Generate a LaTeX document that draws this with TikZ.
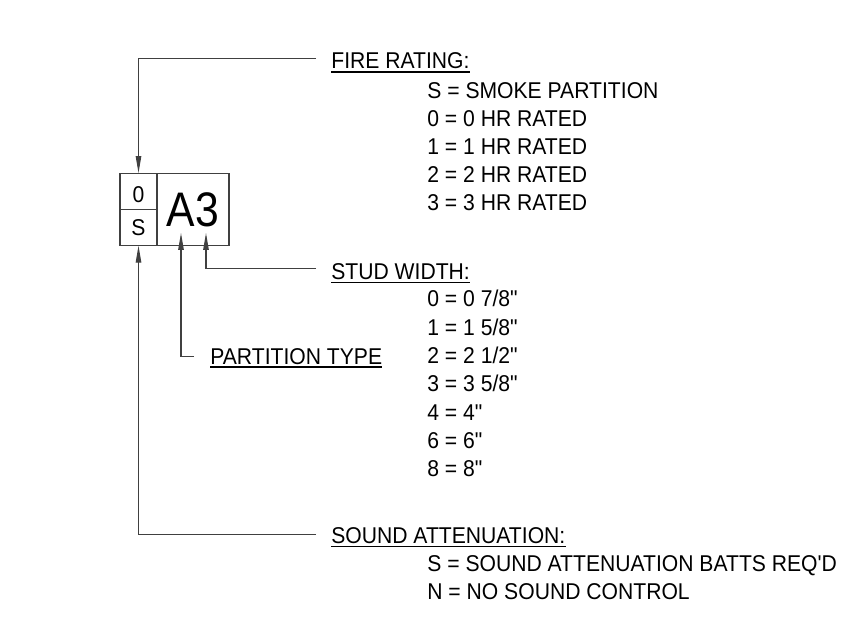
\documentclass[tikz,border=0pt]{standalone}
\usepackage{fontspec}
\setmainfont{Liberation Sans}[FakeStretch=0.925, Ligatures=TeXOff]
\newfontfamily\tagfont{Liberation Sans}[FakeStretch=0.88]
\usetikzlibrary{arrows.meta, positioning, calc}
\tikzstyle{arrow} = [-{Triangle[length=0.34cm, width=0.11cm]}, line width=0.6pt, color=black!75]

\begin{document}
\begin{tikzpicture}[
    x=0.02cm, y=-0.02cm,
    cell/.style={rectangle, draw=black!75, line width=0.6pt, inner sep=0pt, outer sep=0pt,
                 minimum width=0.74cm, minimum height=0.726cm, font=\fontsize{13}{15}\selectfont},
    tagbox/.style={cell, minimum width=1.44cm, minimum height=1.452cm,
                   font=\tagfont\fontsize{27.6}{30}\selectfont},
    heading/.style={anchor=base west, inner sep=0pt, font=\fontsize{13}{15}\selectfont},
    item/.style={heading},
    uline/.style={line width=0.8pt, black}
]
    \useasboundingbox (0,0) rectangle (865,635);

    % Partition tag
    \node[cell, text height=0.47cm, text depth=0pt] (ratecell) at (138.5,191.2) {0};
    \node[cell, below=0pt of ratecell] (sndcell) {S};
    \node[tagbox, anchor=north west] (tagcell) at (ratecell.north east) {A3};

    % Fire rating
    \node[heading] (fire) at (331,69) {FIRE RATING:};
    \node[item] (f1) at (427,98) {S = SMOKE PARTITION};
    \node[item] (f2) at (427,126.2) {0 = 0 HR RATED};
    \node[item] (f3) at (427,154.4) {1 = 1 HR RATED};
    \node[item] (f4) at (427,182.6) {2 = 2 HR RATED};
    \node[item] (f5) at (427,210.8) {3 = 3 HR RATED};

    % Stud width
    \node[heading] (stud) at (331,279.3) {STUD WIDTH:};
    \node[item] (s1) at (427,306.7) {0 = 0 7/8"};
    \node[item] (s2) at (427,335) {1 = 1 5/8"};
    \node[item] (s3) at (427,363.3) {2 = 2 1/2"};
    \node[item] (s4) at (427,391.7) {3 = 3 5/8"};
    \node[item] (s5) at (427,420) {4 = 4"};
    \node[item] (s6) at (427,448.3) {6 = 6"};
    \node[item] (s7) at (427,476.7) {8 = 8"};

    % Partition type
    \node[heading] (ptitle) at (210,364) {PARTITION TYPE};

    % Sound attenuation
    \node[heading] (attn) at (331,543.3) {SOUND ATTENUATION:};
    \node[item] (a1) at (427,571.5) {S = SOUND ATTENUATION BATTS REQ'D};
    \node[item] (a2) at (427,599.5) {N = NO SOUND CONTROL};

    % Underlines
    \foreach \h in {fire, stud, ptitle, attn}
        \draw[uline] ([yshift=-0.06cm]\h.base west) -- ([yshift=-0.06cm]\h.base east);

    % Leaders
    \coordinate (firestart) at (316,58.3);
    \coordinate (studstart) at (316,268.3);
    \coordinate (studtip) at (206,233);
    \coordinate (typestart) at (194,356.7);
    \coordinate (typetip) at (181,233);
    \coordinate (attnstart) at (316,534.3);

    \draw[arrow] (firestart) -| (ratecell.north);
    \draw[arrow] (studstart) -| (studtip);
    \draw[arrow] (typestart) -| (typetip);
    \draw[arrow] (attnstart) -| (sndcell.south);

\end{tikzpicture}
\end{document}
